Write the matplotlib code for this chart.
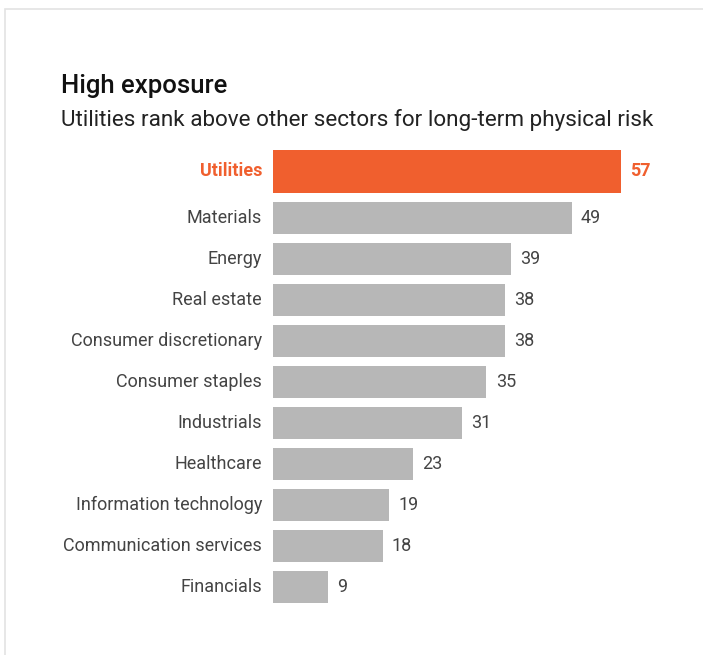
import numpy as np
import matplotlib.pyplot as plt
from matplotlib.patches import Rectangle

sectors = ["Utilities", "Materials", "Energy", "Real estate", "Consumer discretionary",
           "Consumer staples", "Industrials", "Healthcare", "Information technology",
           "Communication services", "Financials"]
scores = [57, 49, 39, 38, 38, 35, 31, 23, 19, 18, 9]

orange = "#F05F2E"
grey = "#B7B7B7"
text_col = "#444444"

plt.rcParams['font.family'] = ['Roboto', 'DejaVu Sans']

fig = plt.figure(figsize=(7.03, 6.55), dpi=100)
fig.patch.set_facecolor("white")

# faint frame around the graphic
fig.add_artist(Rectangle((5 / 703, -0.1), 1.2, 1 - 9 / 655 + 0.1, transform=fig.transFigure,
                         fill=False, edgecolor="#e3e3e3", linewidth=1.2))

fig.text(61 / 703, 1 - 93 / 655, "High exposure", fontsize=18.5, color="#111111",
         fontweight="medium", ha="left", va="baseline")
fig.text(61 / 703, 1 - 126 / 655, "Utilities rank above other sectors for long-term physical risk",
         fontsize=16.2, color="#222222", ha="left", va="baseline")

ax = fig.add_axes([273 / 703, 1 - 607.5 / 655, 410 / 703, (607.5 - 146.25) / 655])

ypos = np.arange(len(sectors), dtype=float)
heights = np.full(len(sectors), 0.78)
colors = [grey] * len(sectors)
# highlighted bar is a bit taller
ypos[0] = -0.14
heights[0] = 1.05
colors[0] = orange

ax.barh(ypos, scores, height=heights, color=colors)
ax.set_xlim(0, 410 / 6.1)
ax.set_ylim(10.5, -0.75)

for i, (name, v) in enumerate(zip(sectors, scores)):
    c = orange if i == 0 else text_col
    w = "bold" if i == 0 else "normal"
    ax.text(-1.8, ypos[i], name, ha="right", va="center", fontsize=13, color=c, fontweight=w)
    ax.text(v + 1.5, ypos[i], str(v), ha="left", va="center", fontsize=13, color=c, fontweight=w)

ax.axis("off")
fig.savefig("out.png", dpi=100)
